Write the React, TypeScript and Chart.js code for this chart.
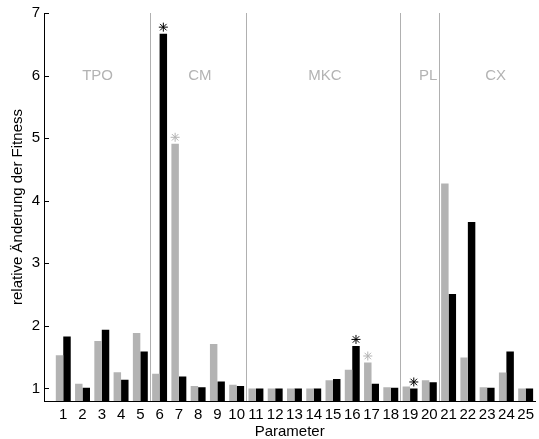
import React, { useEffect, useRef } from 'react';
import { Chart, registerables } from 'chart.js';

Chart.register(...registerables);

const categories = [1, 2, 3, 4, 5, 6, 7, 8, 9, 10, 11, 12, 13, 14, 15, 16, 17, 18, 19, 20, 21, 22, 23, 24, 25];
const graySeries = [1.53, 1.075, 1.76, 1.26, 1.885, 1.235, 4.91, 1.04, 1.71, 1.06, 1.0, 1.0, 1.0, 1.0, 1.13, 1.30, 1.415, 1.02, 1.03, 1.13, 4.275, 1.495, 1.02, 1.255, 1.0];
const blackSeries = [1.83, 1.01, 1.94, 1.14, 1.59, 6.67, 1.19, 1.02, 1.11, 1.04, 1.0, 1.0, 1.0, 1.0, 1.15, 1.68, 1.075, 1.01, 1.0, 1.10, 2.51, 3.66, 1.01, 1.59, 1.0];
const yTicks = [1, 2, 3, 4, 5, 6, 7];
const groupNames = ['TPO', 'CM', 'MKC', 'PL', 'CX'];
const groupLabelX = [2.78, 8.09, 14.58, 19.94, 23.44];
const groupLabelY = 6;
const groupSeparators = [5.5, 10.5, 18.5, 20.5];
const grayStars = [7, 17];
const blackStars = [6, 16, 19];

const GRAY = '#b3b3b3';
const FONT = 'Liberation Sans, Arial, Helvetica, sans-serif';

function drawStar(ctx: CanvasRenderingContext2D, x: number, y: number, r: number, color: string) {
  ctx.save();
  ctx.strokeStyle = color;
  ctx.lineWidth = 1;
  ctx.beginPath();
  ctx.moveTo(x - r, y); ctx.lineTo(x + r, y);
  ctx.moveTo(x, y - r); ctx.lineTo(x, y + r);
  const d = r * 0.72;
  ctx.moveTo(x - d, y - d); ctx.lineTo(x + d, y + d);
  ctx.moveTo(x - d, y + d); ctx.lineTo(x + d, y - d);
  ctx.stroke();
  ctx.restore();
}

const decorPlugin = {
  id: 'decor',
  beforeDatasetsDraw(chart: any) {
    const { ctx, chartArea, scales } = chart;
    const xs = scales.x;
    const ys = scales.y;
    ctx.save();
    ctx.strokeStyle = '#b0b0b0';
    ctx.lineWidth = 1;
    groupSeparators.forEach((v) => {
      const px = Math.round(xs.getPixelForValue(v)) + 0.5;
      ctx.beginPath();
      ctx.moveTo(px, chartArea.top);
      ctx.lineTo(px, chartArea.bottom);
      ctx.stroke();
    });
    ctx.fillStyle = GRAY;
    ctx.font = `15px ${FONT}`;
    ctx.textAlign = 'center';
    ctx.textBaseline = 'middle';
    groupNames.forEach((n, i) => {
      ctx.fillText(n, xs.getPixelForValue(groupLabelX[i]), ys.getPixelForValue(groupLabelY));
    });
    ctx.restore();
  },
  afterDatasetsDraw(chart: any) {
    const { ctx, chartArea, scales } = chart;
    const ys = scales.y;
    ctx.save();
    ctx.strokeStyle = '#000';
    ctx.lineWidth = 1;
    yTicks.forEach((t) => {
      const py = Math.round(ys.getPixelForValue(t)) + 0.5;
      ctx.beginPath();
      ctx.moveTo(chartArea.left, py);
      ctx.lineTo(chartArea.left + 5, py);
      ctx.stroke();
    });
    ctx.restore();
    const grayMeta = chart.getDatasetMeta(0);
    const blackMeta = chart.getDatasetMeta(1);
    grayStars.forEach((c) => {
      const el = grayMeta.data[categories.indexOf(c)];
      drawStar(ctx, el.x, el.y - 6.5, 4.5, GRAY);
    });
    blackStars.forEach((c) => {
      const el = blackMeta.data[categories.indexOf(c)];
      drawStar(ctx, el.x, el.y - 6.5, 4.5, '#000');
    });
  },
};

export default function App() {
  const ref = useRef<HTMLCanvasElement>(null);
  useEffect(() => {
    document.body.style.margin = '0';
    const tickFont = { family: FONT, size: 15 };
    const chart = new Chart(ref.current as HTMLCanvasElement, {
      type: 'bar',
      data: {
        datasets: [
          {
            label: 'grau',
            data: categories.map((c, i) => ({ x: c, y: graySeries[i] })),
            backgroundColor: GRAY,
            borderWidth: 0,
            categoryPercentage: 0.775,
            barPercentage: 1,
          },
          {
            label: 'schwarz',
            data: categories.map((c, i) => ({ x: c, y: blackSeries[i] })),
            backgroundColor: '#000000',
            borderWidth: 0,
            categoryPercentage: 0.775,
            barPercentage: 1,
          },
        ],
      },
      options: {
        animation: false,
        responsive: true,
        maintainAspectRatio: false,
        layout: { padding: { top: 12, right: 0, left: 0, bottom: 0 } },
        plugins: { legend: { display: false }, tooltip: { enabled: false } },
        scales: {
          x: {
            type: 'linear',
            min: 0,
            max: 25.5,
            offset: false,
            grid: { display: false, drawTicks: false },
            border: { display: true, color: '#000', width: 1 },
            ticks: {
              font: tickFont,
              color: '#000',
              padding: 5,
              autoSkip: false,
              maxRotation: 0,
              callback: (v: any) => String(v),
            },
            afterBuildTicks: (s: any) => {
              s.ticks = categories.map((c) => ({ value: c }));
            },
            afterFit: (s: any) => {
              s.height = 38;
            },
            title: {
              display: true,
              text: 'Parameter',
              font: tickFont,
              color: '#000',
              padding: { top: 0, bottom: -1.5 },
            },
          },
          y: {
            type: 'linear',
            min: 0.8,
            max: 7,
            grid: { display: false, drawTicks: false },
            border: { display: true, color: '#000', width: 1 },
            ticks: { font: tickFont, color: '#000', padding: 4 },
            afterBuildTicks: (s: any) => {
              s.ticks = yTicks.map((t) => ({ value: t }));
            },
            afterFit: (s: any) => {
              s.width = 44;
            },
            title: {
              display: true,
              text: 'relative Änderung der Fitness',
              font: tickFont,
              color: '#000',
              padding: { top: 9, bottom: 0 },
            },
          },
        },
      },
      plugins: [decorPlugin],
    });
    return () => chart.destroy();
  }, []);
  return (
    <div style={{ width: 539, height: 439, position: 'relative', background: '#fff' }}>
      <canvas ref={ref} />
    </div>
  );
}
